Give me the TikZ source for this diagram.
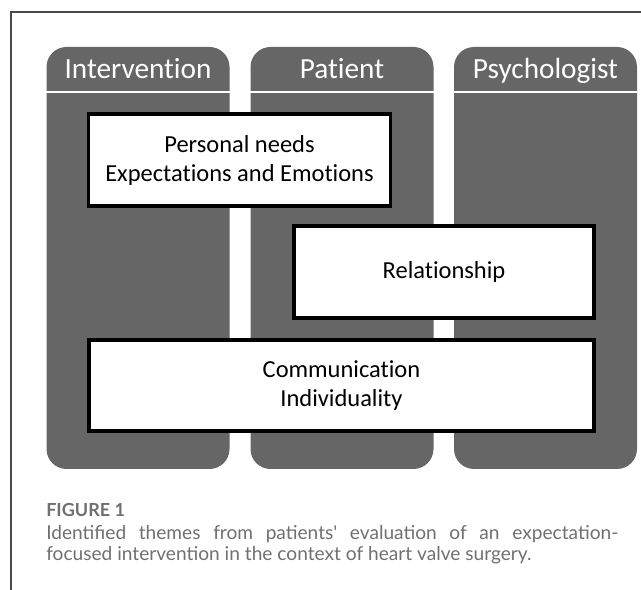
\documentclass[tikz,border=0pt]{standalone}
\usepackage{fontspec}
\setmainfont{Carlito}[Ligatures=CommonOff]
\newfontfamily\capfont{Lato}
\definecolor{colgray}{HTML}{666666}
\definecolor{capgray}{HTML}{707070}
\definecolor{framegray}{HTML}{4A4A4A}
\tikzset{
  column/.style={fill=colgray,rounded corners=20*0.025cm,minimum width=183*0.025cm,minimum height=422*0.025cm,inner sep=0pt},
  header/.style={text=white,font=\fontsize{20.8}{24}\selectfont,anchor=base},
  theme/.style={draw=black,fill=white,line width=2.2pt,inner sep=0pt,align=center,font=\fontsize{17.4}{20.6}\selectfont}
}
\begin{document}
\begin{tikzpicture}[x=0.025cm,y=-0.025cm]
\useasboundingbox (0,0) rectangle (641,590);
% frame
\draw[framegray,line width=0.8pt] (11,590) -- (11,12) -- (641,12);
% columns
\node[column] (intervention) at (138,258) {};
\node[column] (patient) at (342,258) {};
\node[column] (psychologist) at (545.5,258) {};
\foreach \c in {intervention,patient,psychologist}
  \draw[white,line width=2pt] (\c.west |- 0,92) -- (\c.east |- 0,92);
\node[header] (hint) at (138,79) {Intervention};
\node[header] (hpat) at (342,79) {Patient};
\node[header] (hpsy) at (545.5,79) {Psychologist};
% themes
\node[theme,minimum width=302*0.025cm,minimum height=92*0.025cm] (needs) at (239.5,160) {Personal needs\\Expectations and Emotions};
\node[theme,minimum width=300*0.025cm,minimum height=92*0.025cm] (relation) at (444,272) {Relationship};
\node[theme,minimum width=505*0.025cm,minimum height=91*0.025cm] (commun) at (341.5,385.5) {Communication\\Individuality};
% caption
\node[anchor=base west,inner sep=0pt,text=capgray,font=\capfont\bfseries\fontsize{12.8}{14}\selectfont] (figlabel) at (46,517) {FIGURE 1};
\node[anchor=north west,inner sep=0pt,text=capgray,text width=572*0.025cm,align=justify,
  font=\capfont\fontsize{13.6}{15}\selectfont] (figcaption) at (46,525)
  {Identified themes from patients' evaluation of an expectation-\linebreak focused intervention in the context of heart valve surgery.};
\end{tikzpicture}
\end{document}
